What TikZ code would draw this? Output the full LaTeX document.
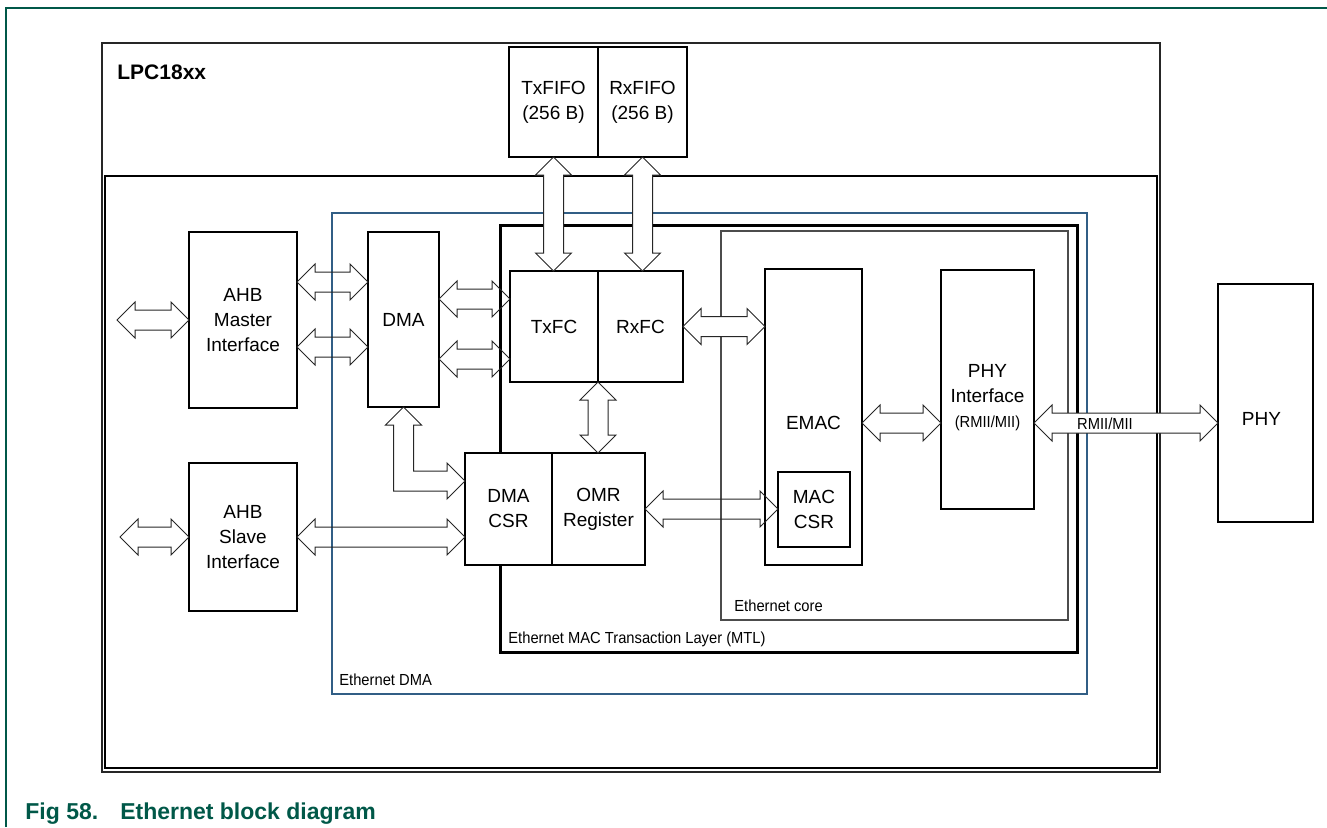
\documentclass[tikz,border=0pt]{standalone}
\usepackage{fontspec}
\setmainfont{Liberation Sans}
\newfontfamily\narrowfont[FakeStretch=0.92]{Liberation Sans}
\usetikzlibrary{calc,positioning}
\definecolor{nxpgreen}{RGB}{0,88,72}
\definecolor{dmablue}{RGB}{49,94,133}
% fat double-headed bus arrows: horizontal, vertical and elbow (down, then right)
\newcommand\hbus[3][bus]{\draw[#1] let \p1=#2,\p2=#3 in (\x1,\y1) -- (\x1+9pt,\y1+9pt) -- (\x1+9pt,\y1+5pt) -- (\x2-9pt,\y1+5pt) -- (\x2-9pt,\y1+9pt) -- (\x2,\y1) -- (\x2-9pt,\y1-9pt) -- (\x2-9pt,\y1-5pt) -- (\x1+9pt,\y1-5pt) -- (\x1+9pt,\y1-9pt) -- cycle;}
\newcommand\vbus[3][bus]{\draw[#1] let \p1=#2,\p2=#3 in (\x1,\y1) -- (\x1-9pt,\y1-9pt) -- (\x1-5pt,\y1-9pt) -- (\x1-5pt,\y2+9pt) -- (\x1-9pt,\y2+9pt) -- (\x1,\y2) -- (\x1+9pt,\y2+9pt) -- (\x1+5pt,\y2+9pt) -- (\x1+5pt,\y1-9pt) -- (\x1+9pt,\y1-9pt) -- cycle;}
\newcommand\lbus[3][bus]{\draw[#1] let \p1=#2,\p2=#3 in (\x1,\y1) -- (\x1-9pt,\y1-9pt) -- (\x1-5pt,\y1-9pt) -- (\x1-5pt,\y2-5pt) -- (\x2-9pt,\y2-5pt) -- (\x2-9pt,\y2-9pt) -- (\x2,\y2) -- (\x2-9pt,\y2+9pt) -- (\x2-9pt,\y2+5pt) -- (\x1+5pt,\y2+5pt) -- (\x1+5pt,\y1-9pt) -- (\x1+9pt,\y1-9pt) -- cycle;}

\begin{document}
\begin{tikzpicture}[x=0.5pt,y=-0.5pt,every node/.style={font=\fontsize{9.5}{12.5}\selectfont},block/.style={draw,line width=1pt,fill=white,inner sep=0pt,outer sep=0pt,align=center},bus/.style={draw=black!85,line width=0.5pt},solidbus/.style={bus,fill=white},tag/.style={font=\narrowfont\fontsize{8}{9}\selectfont,inner sep=0pt,anchor=base west}]
\useasboundingbox (0,0) rectangle (1327,827);
\draw[nxpgreen,line width=0.6pt] (6,827) -- (6,8) -- (1327,8);
% frames
\draw[black!85,line width=1.4pt] (102,43) rectangle (1160,772);
\draw[line width=0.8pt] (105,176) rectangle (1157,768);
\draw[dmablue,line width=1pt] (332,213) rectangle (1087,694);
\draw[line width=1.5pt] (500,225) rectangle (1077,652);
\draw[black!70,line width=1pt] (721,231) rectangle (1068,620);
\node[font=\bfseries\fontsize{10.5}{12}\selectfont,anchor=base west,inner sep=0pt] (lpclbl) at (117,79) {LPC18xx};
\node[tag] (edmalbl) at (339,685) {Ethernet DMA};
\node[tag] (mtllbl) at (508,643) {Ethernet MAC Transaction Layer (MTL)};
\node[tag] (corelbl) at (734,611) {Ethernet core};
% blocks
\node[block,minimum width=44.5pt,minimum height=55pt] (txfifo) at (553.5,102) {TxFIFO\\(256 B)};
\node[block,minimum width=44.5pt,minimum height=55pt,right=0pt of txfifo] (rxfifo) {RxFIFO\\(256 B)};
\node[block,minimum width=54pt,minimum height=88pt] (ahbm) at (243,320) {AHB\\Master\\Interface};
\node[block,minimum width=54pt,minimum height=74pt] (ahbs) at (243,537) {AHB\\Slave\\Interface};
\node[block,minimum width=35.5pt,minimum height=87.5pt] (dma) at (403.5,319.5) {DMA};
\node[block,minimum width=44pt,minimum height=55.5pt] (txfc) at (554,326.5) {TxFC};
\node[block,minimum width=42.5pt,minimum height=55.5pt,right=0pt of txfc] (rxfc) {RxFC};
\node[block,minimum width=43.5pt,minimum height=56pt] (dmacsr) at (508.5,509) {DMA\\CSR};
\node[block,minimum width=46.5pt,minimum height=56pt,right=0pt of dmacsr] (omr) {OMR\\Register};
\node[block,minimum width=48.5pt,minimum height=148pt,label={[yshift=-3pt]center:EMAC}] (emac) at (813.5,417) {};
\node[block,minimum width=36pt,minimum height=37.5pt] (maccsr) at (814,509.5) {MAC\\CSR};
\node[block,minimum width=46.5pt,minimum height=119.5pt,label={[align=center,yshift=-4pt]center:PHY\\Interface\\{\narrowfont\fontsize{8}{9}\selectfont(RMII/MII)}}] (phyif) at (987.5,389.5) {};
\node[block,minimum width=47.5pt,minimum height=119pt,label={[yshift=-8pt,xshift=-2pt]center:PHY}] (phy) at (1265.5,403) {};
% buses
\coordinate (mext) at (117,320);
\coordinate (sext) at (120,537);
\hbus{(mext)}{(ahbm.west)}
\hbus{(sext)}{(ahbs.west)}
\hbus{(ahbm.east|-0,282)}{(dma.west)}
\hbus{(ahbm.east|-0,347)}{(dma.west)}
\hbus{(dma.east|-0,299)}{(txfc.west)}
\hbus{(dma.east|-0,359)}{(txfc.west)}
\vbus[solidbus]{(txfifo.south)}{(txfc.north)}
\vbus[solidbus]{(rxfifo.south)}{(rxfc.north)}
\vbus[solidbus]{(txfc.south east)}{(omr.north)}
\lbus{(dma.south)}{(dmacsr.west|-0,481)}
\hbus{(ahbs.east)}{(dmacsr.west)}
\hbus[solidbus]{(rxfc.east)}{(emac.west)}
\hbus{(omr.east)}{(maccsr.west)}
\hbus{(emac.east|-0,423)}{(phyif.west)}
\hbus[solidbus]{(phyif.east|-0,423)}{(phy.west)}
\node[tag,anchor=center] (rmii) at (1105,424) {RMII/MII};
\node[font=\bfseries\fontsize{11.5}{13}\selectfont,text=nxpgreen,anchor=base west,inner sep=0pt] (caption) at (25,819) {Fig 58.\hspace{11pt}Ethernet block diagram};
\end{tikzpicture}
\end{document}
